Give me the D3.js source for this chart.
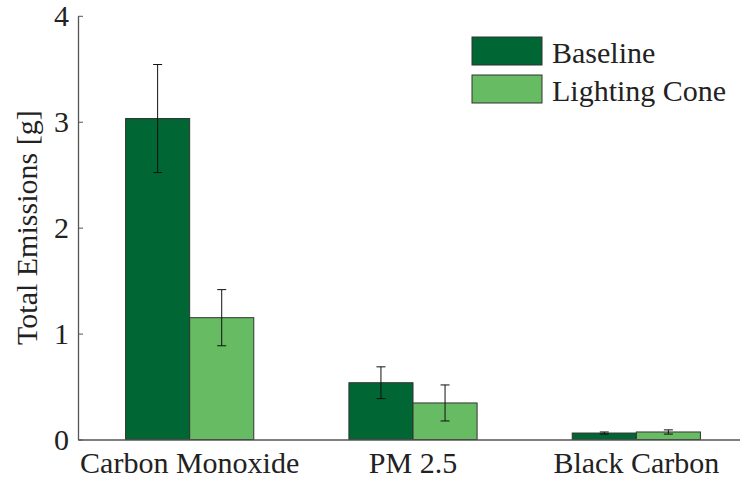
<!DOCTYPE html>
<html><head><meta charset="utf-8">
<script src="https://cdn.jsdelivr.net/npm/d3@7"></script>
<style>body{margin:0;background:#fff}svg{display:block}text{font-family:"Liberation Serif","Times New Roman",serif;fill:#222}</style>
</head><body><svg id="c" width="740" height="482"></svg>
<script>
const categories = ["Carbon Monoxide", "PM 2.5", "Black Carbon"];
const seriesNames = ["Baseline", "Lighting Cone"];
const baselineValues = [3.03, 0.536, 0.061];
const baselineErrors = [0.51, 0.15, 0.01];
const coneValues = [1.15, 0.345, 0.071];
const coneErrors = [0.265, 0.17, 0.02];
const yTicks = [0, 1, 2, 3, 4];
const colors = ["#006633", "#66bb63"];

const svg = d3.select("#c");
const m = {l: 78, r: 0, t: 15.8, b: 42.5};
const W = 740, H = 482;
const x = d3.scaleBand().domain(categories).range([m.l, 748]).padding(0);
const y = d3.scaleLinear().domain([0, 4]).range([H - m.b, m.t]);
const barW = x.bandwidth() * 0.287;
const sub = d3.scaleBand().domain(seriesNames).range([-barW, barW]);

const data = [];
categories.forEach((c, i) => {
  data.push({c, s: seriesNames[0], v: baselineValues[i], e: baselineErrors[i], col: colors[0]});
  data.push({c, s: seriesNames[1], v: coneValues[i], e: coneErrors[i], col: colors[1]});
});

svg.selectAll("rect.bar").data(data).enter().append("rect")
  .attr("x", d => x(d.c) + x.bandwidth() / 2 + sub(d.s))
  .attr("width", sub.bandwidth())
  .attr("y", d => y(d.v))
  .attr("height", d => y(0) - y(d.v))
  .attr("fill", d => d.col).attr("stroke", "#333").attr("stroke-width", 1);

const eg = svg.selectAll("g.err").data(data).enter().append("g")
  .attr("stroke", "#111").attr("stroke-width", 1);
const cx = d => x(d.c) + x.bandwidth() / 2 + sub(d.s) + sub.bandwidth() / 2;
eg.append("line").attr("x1", cx).attr("x2", cx).attr("y1", d => y(d.v + d.e)).attr("y2", d => y(d.v - d.e));
eg.append("line").attr("x1", d => cx(d) - 4.5).attr("x2", d => cx(d) + 4.5).attr("y1", d => y(d.v + d.e)).attr("y2", d => y(d.v + d.e));
eg.append("line").attr("x1", d => cx(d) - 4.5).attr("x2", d => cx(d) + 4.5).attr("y1", d => y(d.v - d.e)).attr("y2", d => y(d.v - d.e));

// y axis
const ya = svg.append("g").attr("transform", `translate(${m.l},0)`)
  .call(d3.axisLeft(y).tickValues(yTicks).tickFormat(d3.format("d")).tickSizeInner(-5).tickSizeOuter(0).tickPadding(9));
ya.select(".domain").attr("stroke", "#555").attr("stroke-width", 1.3);
ya.selectAll(".tick line").attr("stroke", "#555");
ya.selectAll(".tick text").attr("font-size", 30).attr("font-family", "Liberation Serif").attr("fill", "#222");

// x axis
const xa = svg.append("g").attr("transform", `translate(0,${y(0)})`)
  .call(d3.axisBottom(x).tickSize(0).tickPadding(12));
xa.select(".domain").attr("stroke", "#555").attr("stroke-width", 1.3);
xa.selectAll(".tick text").attr("font-size", 30).attr("font-family", "Liberation Serif").attr("fill", "#222");

svg.append("text").attr("transform", `translate(37,${(y(0) + y(4)) / 2}) rotate(-90)`)
  .attr("text-anchor", "middle").attr("font-size", 30).text("Total Emissions [g]");

// legend
const lg = svg.append("g").attr("transform", "translate(472,37)");
seriesNames.forEach((s, i) => {
  lg.append("rect").attr("x", 0).attr("y", i * 38).attr("width", 70).attr("height", 28)
    .attr("fill", colors[i]).attr("stroke", "#333").attr("stroke-width", 1);
  lg.append("text").attr("x", 80).attr("y", i * 38 + 25.5).attr("font-size", 30).text(s);
});
</script></body></html>
